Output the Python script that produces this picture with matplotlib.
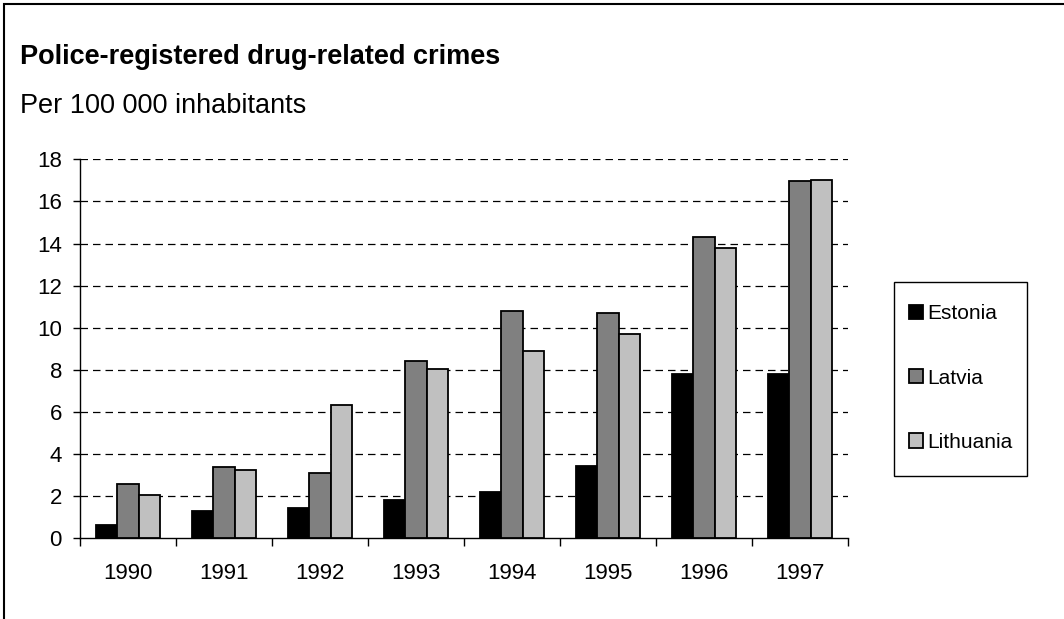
import matplotlib
matplotlib.use("Agg")
import matplotlib.pyplot as plt
from matplotlib.patches import Rectangle, Patch
import numpy as np

years = ["1990", "1991", "1992", "1993", "1994", "1995", "1996", "1997"]
estonia = [0.63, 1.31, 1.42, 1.83, 2.21, 3.42, 7.82, 7.82]
latvia = [2.59, 3.37, 3.12, 8.42, 10.78, 10.68, 14.29, 16.98]
lithuania = [2.04, 3.24, 6.34, 8.05, 8.89, 9.69, 13.78, 17.0]
series_names = ["Estonia", "Latvia", "Lithuania"]
colors = ["#000000", "#808080", "#c0c0c0"]
yticks = [0, 2, 4, 6, 8, 10, 12, 14, 16, 18]

plt.rcParams['font.family'] = ['Liberation Sans', 'DejaVu Sans']

W, H = 1064, 619
fig = plt.figure(figsize=(W/100, H/100), dpi=100)
ax = fig.add_axes([80/W, 1-538.3/H, (848-80)/W, (538.3-159.3)/H])

x = np.arange(len(years))
bw = 0.224
for i, (vals, c, name) in enumerate(zip([estonia, latvia, lithuania], colors, series_names)):
    ax.bar(x + (i-1)*bw, vals, width=bw, color=c, edgecolor='black', linewidth=1.3, label=name, zorder=3)

ax.set_xlim(-0.5, len(years)-0.5)
ax.set_ylim(0, 18)
ax.set_yticks(yticks)
ax.set_yticklabels([str(v) for v in yticks], fontsize=16)
ax.set_xticks(x)
ax.set_xticklabels(years, fontsize=16)
ax.set_xticks(np.arange(-0.5, len(years)), minor=True)
ax.tick_params(axis='x', which='major', length=0, pad=17.5)
ax.tick_params(axis='x', which='minor', length=6, width=1, direction='out')
ax.tick_params(axis='y', which='major', length=5, width=1, direction='out', pad=8)

for v in yticks[1:]:
    ax.axhline(v, color='black', linewidth=0.9, linestyle=(0, (6, 4)), zorder=1)

ax.spines['top'].set_visible(False)
ax.spines['right'].set_visible(False)
ax.spines['left'].set_linewidth(1)
ax.spines['bottom'].set_linewidth(1)

fig.text(20/W, 1-64/H, "Police-registered drug-related crimes", fontsize=19.5,
         fontweight='bold', va='baseline', ha='left')
fig.text(20/W, 1-113/H, "Per 100 000 inhabitants", fontsize=19.5, va='baseline', ha='left')

# legend frame
fig.add_artist(Rectangle((894/W, 1-476/H), (1027-894)/W, (476-281.5)/H,
                         transform=fig.transFigure, fill=False, edgecolor='black', linewidth=1))
handles = [Patch(facecolor=c, edgecolor='black', linewidth=1.3) for c in colors]
leg = fig.legend(handles, series_names, loc='center left', bbox_to_anchor=(909/W, 1-378/H),
                 frameon=False, fontsize=15, handlelength=0.68, handleheight=0.68,
                 handletextpad=0.2, labelspacing=2.17, borderpad=0, borderaxespad=0)

# outer frame
fig.add_artist(Rectangle((4/W, -0.1), 1.2, 1.1 - 4/H, transform=fig.transFigure,
                         fill=False, edgecolor='black', linewidth=1.5))

fig.savefig("out.png", dpi=100)
